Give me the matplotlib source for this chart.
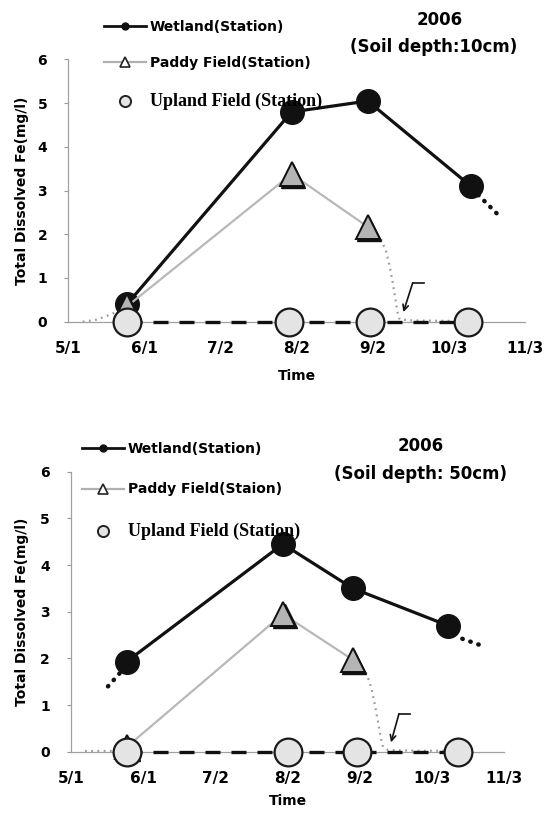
import matplotlib
matplotlib.use('Agg')
import matplotlib.pyplot as plt
from matplotlib.lines import Line2D
from matplotlib.transforms import offset_copy

# x values are days counted from 5/1
tick_days = [0, 31, 62, 93, 124, 155, 186]
tick_labels = ['5/1', '6/1', '7/2', '8/2', '9/2', '10/3', '11/3']

# soil depth 10 cm
wet10_x = [24, 91, 122, 164]
wet10_y = [0.4, 4.8, 5.05, 3.1]
wet10_tail_x = [167, 175]
wet10_tail_y = [2.9, 2.45]
pad10_x = [24, 91, 122]
pad10_y = [0.35, 3.38, 2.17]
pad10_lead_x = [6, 12, 18, 24]
pad10_lead_y = [0.0, 0.05, 0.18, 0.35]
pad10_tail_x = [122, 125, 127.5, 129.5, 131, 132.3, 133.3, 134.2, 135, 140, 150, 163]
pad10_tail_y = [2.17, 2.08, 1.88, 1.6, 1.25, 0.85, 0.5, 0.2, 0.05, 0.03, 0.02, 0.02]
up10_x = [24, 90, 123, 163]
up10_y = [0, 0, 0, 0]

# soil depth 50 cm
wet50_x = [24, 91, 121, 162]
wet50_y = [1.93, 4.45, 3.5, 2.7]
wet50_lead_x = [16, 21]
wet50_lead_y = [1.4, 1.68]
wet50_tail_x = [168, 177]
wet50_tail_y = [2.42, 2.26]
pad50_x = [24, 91, 121]
pad50_y = [0.1, 2.95, 1.97]
pad50_lead_x = [6, 24]
pad50_lead_y = [0.02, 0.02]
pad50_tail_x = [121, 124.5, 127, 129, 130.5, 131.8, 133, 134, 136, 140, 150, 166]
pad50_tail_y = [1.97, 1.86, 1.66, 1.36, 1.0, 0.65, 0.3, 0.1, 0.04, 0.03, 0.02, 0.02]
up50_x = [24, 93, 123, 166]
up50_y = [0, 0, 0, 0]

BOLD_SANS = 'DejaVu Sans'


def plot_panel(ax, wet, pad, up, wet_lead=None, wet_tail=None,
               pad_lead=None, pad_tail=None, arrow=None):
    fig = ax.figure
    # wetland
    ax.plot(wet[0], wet[1], color='#111111', lw=2.3, marker='o', ms=17,
            mfc='#111111', mec='#111111', zorder=3, clip_on=False)
    for seg in (wet_lead, wet_tail):
        if seg is not None:
            ax.plot(seg[0], seg[1], color='#111111', lw=3.2, ls=(0, (0.1, 1.8)),
                    dash_capstyle='round', zorder=3, clip_on=False)
    # paddy field
    for seg in (pad_lead, pad_tail):
        if seg is not None:
            ax.plot(seg[0], seg[1], color='#9a9a9a', lw=1.6, ls=(0, (0.8, 2.0)),
                    zorder=4, clip_on=False)
    ax.plot(pad[0], pad[1], color='#b8b8b8', lw=1.6, zorder=4, clip_on=False)
    shadow = offset_copy(ax.transData, fig=fig, x=1.2, y=-1.6, units='points')
    ax.plot(pad[0], pad[1], ls='none', marker='^', ms=17, mfc='#111111',
            mec='#111111', transform=shadow, zorder=4.5, clip_on=False)
    ax.plot(pad[0], pad[1], ls='none', marker='^', ms=17, mfc='#b4b4b4',
            mec='#111111', mew=1.4, zorder=5, clip_on=False)
    # upland field
    ax.plot(up[0], up[1], color='#111111', lw=2.4, dashes=(4.5, 3.3),
            zorder=5.5, clip_on=False)
    ax.plot(up[0], up[1], ls='none', marker='o', ms=20, mfc='#e4e4e4',
            mec='#1a1a1a', mew=1.6, zorder=6, clip_on=False)

    if arrow is not None:
        (x0, y0), (x1, y1), (xt, yt) = arrow
        ax.plot([x0, x1], [y0, y1], color='#111111', lw=1.2, zorder=7)
        ax.annotate('', xy=(xt, yt), xytext=(x0, y0),
                    arrowprops=dict(arrowstyle='->', color='#111111', lw=1.2,
                                    shrinkA=0, shrinkB=0), zorder=7)

    ax.set_xlim(0, 186)
    ax.set_ylim(0, 6)
    ax.set_xticks(tick_days)
    ax.set_xticklabels(tick_labels, fontsize=11, fontweight='bold', family=BOLD_SANS)
    ax.set_yticks(range(7))
    ax.set_yticklabels([str(v) for v in range(7)], fontsize=10,
                       fontweight='bold', family=BOLD_SANS)
    ax.tick_params(axis='x', length=0, pad=14)
    ax.tick_params(axis='y', length=3, width=0.8, color='#999999', pad=12)
    for side in ('top', 'right'):
        ax.spines[side].set_visible(False)
    for side in ('left', 'bottom'):
        ax.spines[side].set_color('#a0a0a0')
        ax.spines[side].set_linewidth(0.9)
    ax.set_ylabel('Total Dissolved Fe(mg/l)', fontsize=10, fontweight='bold',
                  family=BOLD_SANS)
    ax.set_xlabel('Time', fontsize=10, fontweight='bold', family=BOLD_SANS)


def add_legend(ax, paddy_label, anchor, spacing):
    handles = [
        Line2D([], [], color='#111111', lw=2, marker='o', ms=5),
        Line2D([], [], color='#b0b0b0', lw=1.6, marker='^', ms=6.5,
               mfc='white', mec='#222222', mew=1.2),
        Line2D([], [], ls='none', marker='o', ms=8, mfc='#e4e4e4',
               mec='#222222', mew=1.4),
    ]
    labels = ['Wetland(Station)', paddy_label, 'Upland Field (Station)']
    leg = ax.figure.legend(handles, labels, loc='upper left',
                           bbox_to_anchor=anchor, frameon=False,
                           borderpad=0, borderaxespad=0, handlelength=3.0,
                           handletextpad=0.3, labelspacing=spacing, numpoints=1,
                           prop={'family': BOLD_SANS, 'weight': 'bold', 'size': 10})
    t = leg.get_texts()[2]
    t.set_fontfamily('Liberation Serif')
    t.set_fontsize(13)
    t.set_fontweight('bold')
    return leg


W, H = 546, 814
fig = plt.figure(figsize=(W / 100, H / 100), dpi=100)

ax1 = fig.add_axes([68 / W, 1 - 321.7 / H, 457 / W, 262.2 / H])
plot_panel(ax1, (wet10_x, wet10_y), (pad10_x, pad10_y), (up10_x, up10_y),
           wet_tail=(wet10_tail_x, wet10_tail_y),
           pad_lead=(pad10_lead_x, pad10_lead_y),
           pad_tail=(pad10_tail_x, pad10_tail_y),
           arrow=((140.3, 0.89), (145, 0.89), (136.5, 0.22)))
ax1.yaxis.set_label_coords(-0.085, 0.5)
ax1.xaxis.set_label_coords(0.5, -47 / 262.2)

ax2 = fig.add_axes([70.7 / W, 1 - 751.7 / H, 433.6 / W, 280 / H])
plot_panel(ax2, (wet50_x, wet50_y), (pad50_x, pad50_y), (up50_x, up50_y),
           wet_lead=(wet50_lead_x, wet50_lead_y),
           wet_tail=(wet50_tail_x, wet50_tail_y),
           pad_lead=(pad50_lead_x, pad50_lead_y),
           pad_tail=(pad50_tail_x, pad50_tail_y),
           arrow=((140.8, 0.81), (145.5, 0.81), (137.4, 0.2)))
ax2.yaxis.set_label_coords(-0.096, 0.5)
ax2.xaxis.set_label_coords(0.5, -42 / 280)

add_legend(ax1, 'Paddy Field(Station)', (104 / W, 1 - 20 / H), 1.6)
add_legend(ax2, 'Paddy Field(Staion)', (82 / W, 1 - 442 / H), 1.9)

title_kw = dict(ha='center', va='center', fontsize=12, fontweight='bold',
                family=BOLD_SANS)
fig.text(440 / W, 1 - 20 / H, '2006', **title_kw)
fig.text(434 / W, 1 - 47 / H, '(Soil depth:10cm)', **title_kw)
fig.text(421 / W, 1 - 446 / H, '2006', **title_kw)
fig.text(421 / W, 1 - 474 / H, '(Soil depth: 50cm)', **title_kw)

fig.savefig('out.png', dpi=100)
